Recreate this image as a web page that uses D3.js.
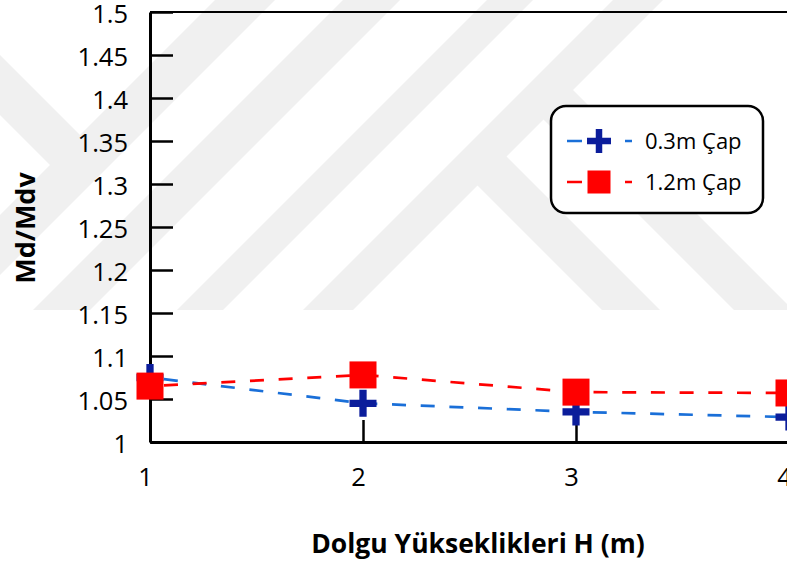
<!DOCTYPE html>
<html>
<head>
<meta charset="utf-8">
<script src="https://cdn.jsdelivr.net/npm/d3@7"></script>
<style>
  html, body { margin: 0; padding: 0; background: #fff; }
  svg { display: block; }
  text { font-family: "Open Sans", "DejaVu Sans", sans-serif; fill: #000; }
</style>
</head>
<body>
<svg id="chart" width="787" height="567"></svg>
<script>
// Fill heights (m) and Md/Mdv ratios for the two pile diameters
const heights = [1, 2, 3, 4];
const ratio03 = [1.075, 1.045, 1.035, 1.029];
const ratio12 = [1.065, 1.078, 1.058, 1.057];
const seriesNames = ["0.3m Çap", "1.2m Çap"];

const yTickValues = [1, 1.05, 1.1, 1.15, 1.2, 1.25, 1.3, 1.35, 1.4, 1.45, 1.5];
const yTickLabels = ["1", "1.05", "1.1", "1.15", "1.2", "1.25", "1.3", "1.35", "1.4", "1.45", "1.5"];
const xTickValues = [1, 2, 3, 4];
const xTickLabels = ["1", "2", "3", "4"];
const xTitle = "Dolgu Yükseklikleri H (m)";
const yTitle = "Md/Mdv";

const svg = d3.select("#chart");
const W = 787, H = 567;

const x = d3.scaleLinear().domain([1, 4]).range([150, 789]);
const y = d3.scaleLinear().domain([1, 1.5]).range([442, 12]);

// ---- faint background emblem (diagonal bands) ----
const defs = svg.append("defs");
defs.append("clipPath").attr("id", "wmClip")
  .append("rect").attr("x", 0).attr("y", 0).attr("width", W).attr("height", 310);

const wm = svg.append("g").attr("clip-path", "url(#wmClip)");
// "/" bands: x + y between a and b
const slashBands = [[215, 275], [343, 400], [487, 533], [613, 663]];
// "\" bands hanging below a slash band: x - y between a and b, starting at x + y = s
const backBands = [[292, 350, 640], [424, 483, 650]];
const wmShapes = [];
slashBands.forEach(([a, b]) => {
  wmShapes.push([[a, 0], [b, 0], [b - 310, 310], [a - 310, 310]]);
});
backBands.forEach(([a, b, s]) => {
  wmShapes.push([[(s + a) / 2, (s - a) / 2], [(s + b) / 2, (s - b) / 2], [b + 310, 310], [a + 310, 310]]);
});
// small band above the left-most slash band
wmShapes.push([[-120, 0], [0, 0], [0, 55], [(240 - 55) / 2, (240 + 55) / 2], [(240 - 115) / 2, (240 + 115) / 2], [0, 115], [-120, 0]]);
wm.selectAll("polygon").data(wmShapes).join("polygon")
  .attr("points", d => d.map(p => p.join(",")).join(" "))
  .attr("fill", "#f0f0f0");

// ---- plot frame ----
svg.append("line")
  .attr("x1", x(1)).attr("x2", W + 5)
  .attr("y1", y(1.5)).attr("y2", y(1.5))
  .attr("stroke", "#000").attr("stroke-width", 2.2);

// ---- axes ----
const yAxis = d3.axisLeft(y)
  .tickValues(yTickValues)
  .tickFormat((d, i) => yTickLabels[i])
  .tickSizeInner(-23)
  .tickSizeOuter(0)
  .tickPadding(22);
const gy = svg.append("g").attr("transform", `translate(${x(1)},0)`).call(yAxis);
gy.attr("font-family", null).attr("font-size", null);
gy.select(".domain").attr("stroke", "#000").attr("stroke-width", 3);
gy.selectAll(".tick line").attr("stroke", "#000").attr("stroke-width", 2.5);
gy.selectAll(".tick text")
  .attr("font-size", 25.5).attr("dy", "0.42em").attr("fill", "#000");

const xAxis = d3.axisBottom(x)
  .tickValues(xTickValues)
  .tickFormat((d, i) => xTickLabels[i])
  .tickSizeInner(-22)
  .tickSizeOuter(0)
  .tickPadding(26);
const gx = svg.append("g").attr("transform", `translate(0,${y(1)})`).call(xAxis);
gx.attr("font-family", null).attr("font-size", null);
gx.select(".domain").attr("stroke", "#000").attr("stroke-width", 3);
gx.selectAll(".tick line").attr("stroke", "#000").attr("stroke-width", 2.5);
gx.selectAll(".tick text")
  .attr("font-size", 25.5).attr("dx", -5).attr("fill", "#000");

// ---- axis titles ----
svg.append("text")
  .attr("x", 478).attr("y", 553)
  .attr("text-anchor", "middle")
  .attr("font-size", 26.5).attr("font-weight", "bold")
  .text(xTitle);
svg.append("text")
  .attr("transform", "translate(35,228) rotate(-90)")
  .attr("text-anchor", "middle")
  .attr("font-size", 27).attr("font-weight", "bold")
  .text(yTitle);

// ---- series ----
const plusPath = (s, t) => {
  const h = s / 2, w = t / 2;
  return `M${-w},${-h}H${w}V${-w}H${h}V${w}H${w}V${h}H${-w}V${w}H${-h}V${-w}H${-w}Z`;
};
const series = [
  { name: seriesNames[0], values: ratio03, line: "#1a6fd8", mark: "#0b1d9b", symbol: "plus" },
  { name: seriesNames[1], values: ratio12, line: "#ff0000", mark: "#ff0000", symbol: "square" }
];

const lineGen = d3.line().x((d, i) => x(heights[i])).y(d => y(d));
series.forEach(s => {
  svg.append("path")
    .datum(s.values)
    .attr("d", lineGen)
    .attr("fill", "none")
    .attr("stroke", s.line)
    .attr("stroke-width", 2.7)
    .attr("stroke-dasharray", "14,14.7")
    .attr("stroke-dashoffset", -14);
});

function drawMarker(g, s, cx, cy, size) {
  if (s.symbol === "plus") {
    g.append("path")
      .attr("d", plusPath(size, size * 0.27))
      .attr("transform", `translate(${cx},${cy})`)
      .attr("fill", s.mark);
  } else {
    g.append("rect")
      .attr("x", cx - size / 2).attr("y", cy - size / 2)
      .attr("width", size).attr("height", size)
      .attr("fill", s.mark);
  }
}
const marks = svg.append("g");
series.forEach(s => {
  s.values.forEach((v, i) => drawMarker(marks, s, x(heights[i]), y(v), 27));
});

// ---- legend ----
const legend = svg.append("g");
legend.append("rect")
  .attr("x", 551).attr("y", 106)
  .attr("width", 212).attr("height", 107)
  .attr("rx", 15).attr("ry", 15)
  .attr("fill", "#fff").attr("stroke", "#000").attr("stroke-width", 2.5);
series.forEach((s, i) => {
  const cy = 141 + i * 41;
  legend.append("line")
    .attr("x1", 567).attr("x2", 632)
    .attr("y1", cy).attr("y2", cy)
    .attr("stroke", s.line).attr("stroke-width", 2.7)
    .attr("stroke-dasharray", "15,43,7");
  drawMarker(legend, s, 599, cy, s.symbol === "plus" ? 24 : 23);
  legend.append("text")
    .attr("x", 645).attr("y", cy)
    .attr("dy", "0.36em")
    .attr("font-size", 22)
    .text(s.name);
});
</script>
</body>
</html>
